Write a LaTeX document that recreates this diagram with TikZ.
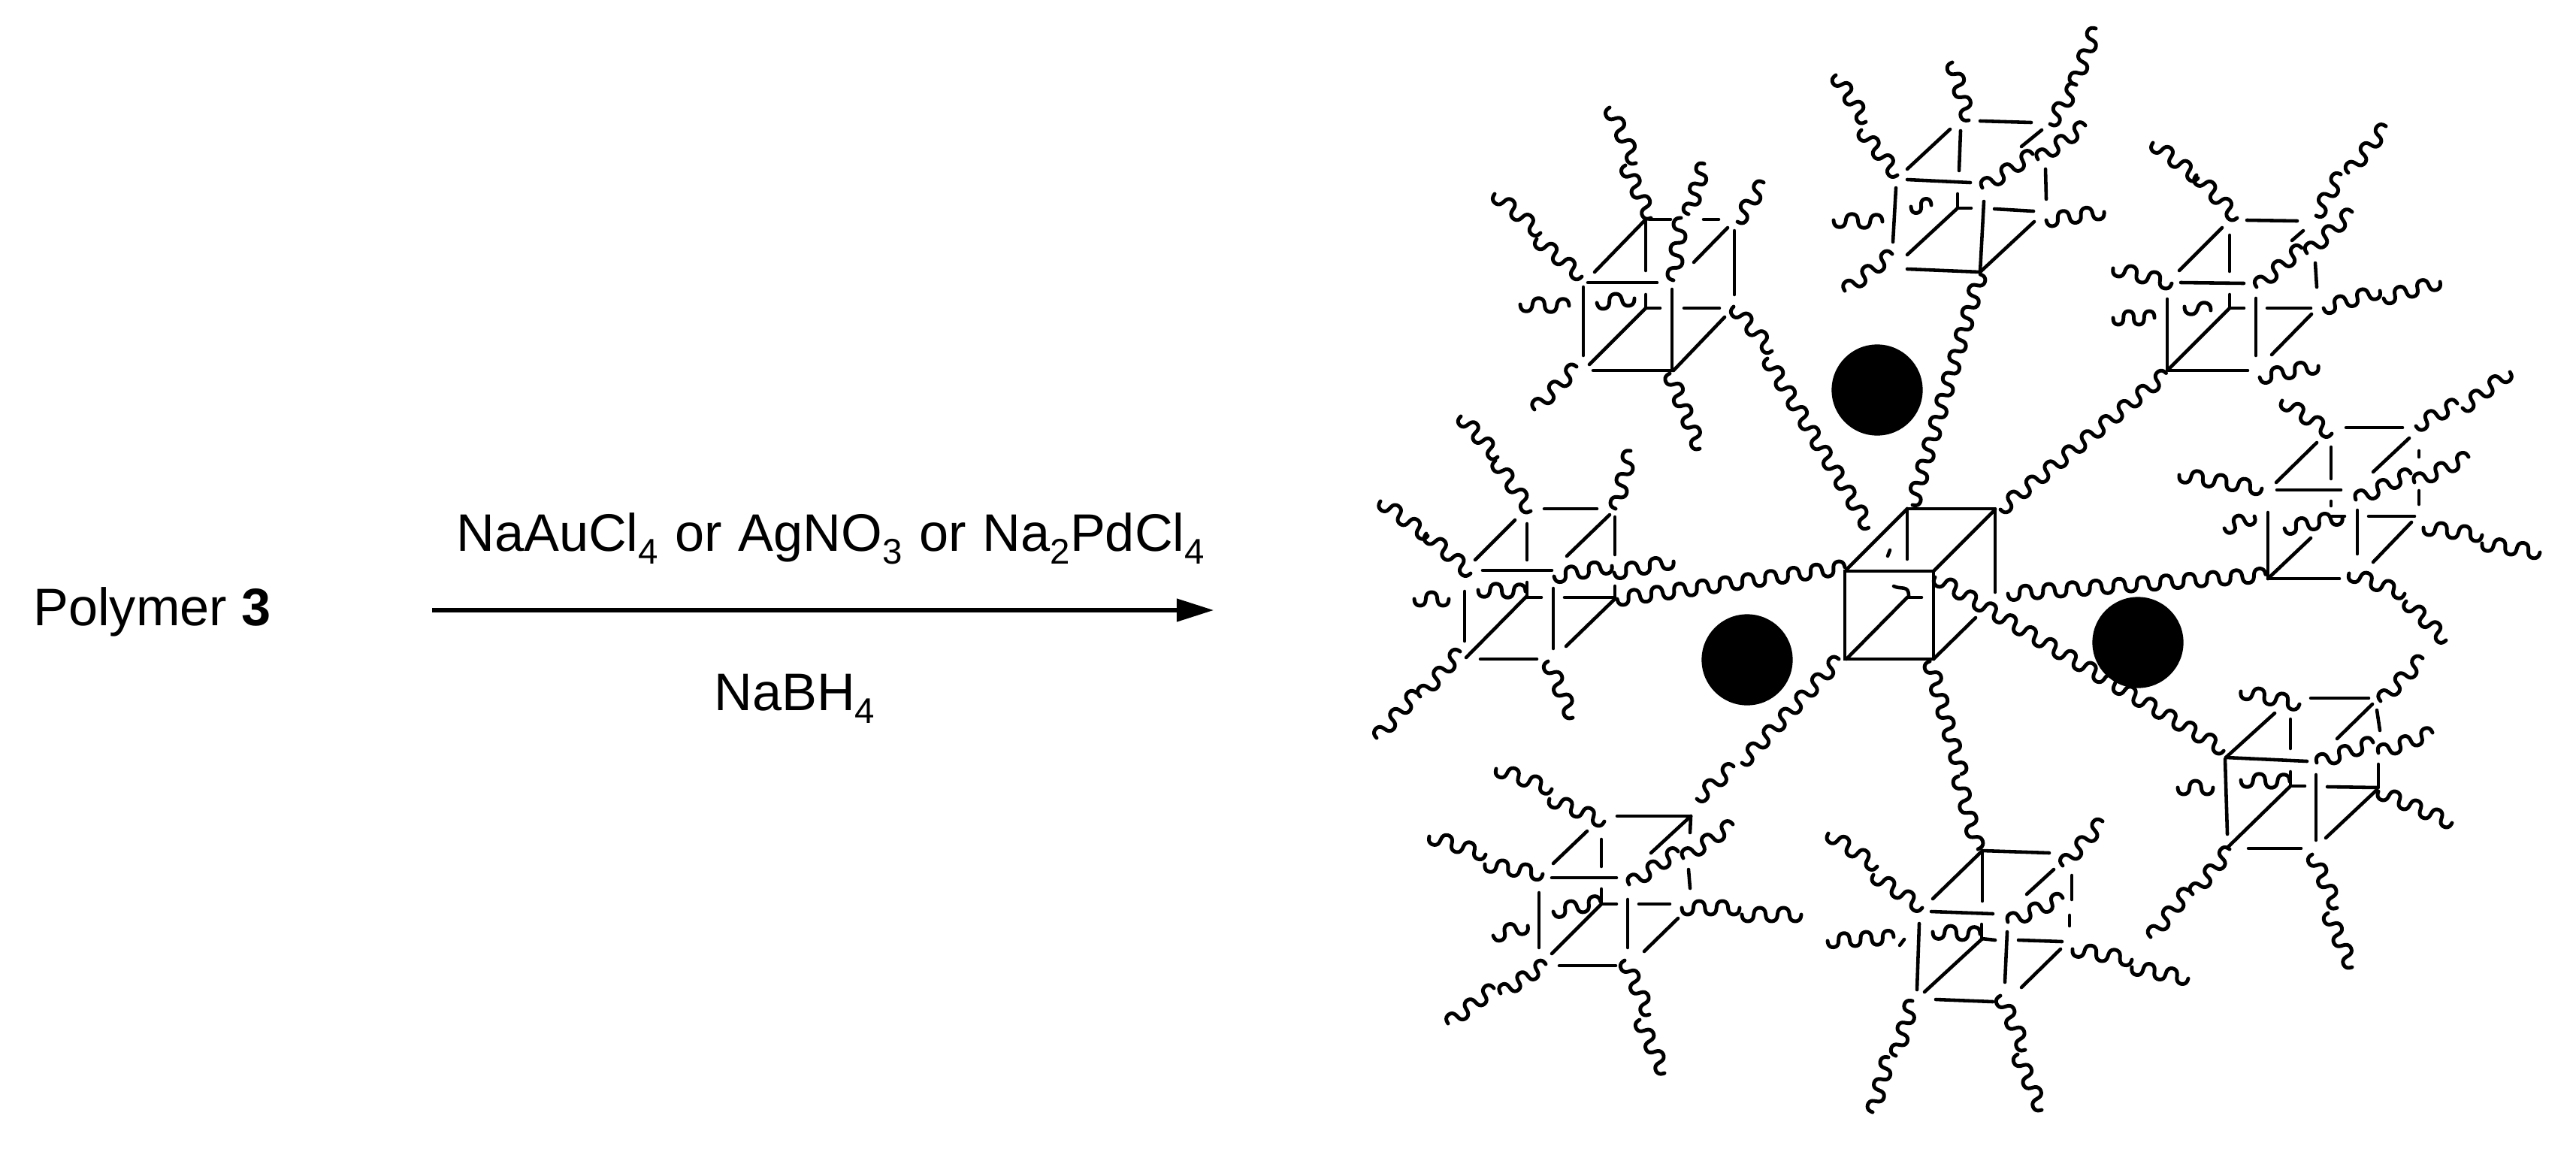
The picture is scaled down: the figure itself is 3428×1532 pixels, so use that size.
\documentclass[tikz,border=0pt]{standalone}
\usepackage{fontspec}
\setmainfont{Liberation Sans}
\usetikzlibrary{arrows.meta}
\newcommand{\sbs}[1]{\raisebox{-0.25em}{\fontsize{27}{27}\selectfont #1}}
% shorthand: straight line and wavy chain, in reference pixels
\newcommand{\ls}[4]{\draw[edge] (#1,#2) -- (#3,#4);}
\newcommand{\wv}[4]{%
  \pgfmathsetmacro\wlen{veclen(#3-#1,#4-#2)}%
  \pgfmathsetmacro\wcyc{max(1,round(2*\wlen/31))/2}%
  \pgfmathtruncatemacro\wsam{24*\wcyc+1}%
  \draw[wavy] plot[variable=\t,domain=0:1,samples=\wsam]
    ({#1+(\t-2*sin(720*\wcyc*\t)/\wlen)*(#3-#1)-9*sin(360*\wcyc*\t)*(#4-#2)/\wlen},
     {#2+(\t-2*sin(720*\wcyc*\t)/\wlen)*(#4-#2)+9*sin(360*\wcyc*\t)*(#3-#1)/\wlen});}
\tikzset{
  edge/.style={line width=2.6pt,line cap=round,black},
  wavy/.style={line width=2.8pt,line cap=round,line join=round,black},
  ball/.style={circle,fill=black,draw=none,inner sep=0pt,minimum size=69pt},
  label/.style={anchor=base west,inner sep=0pt,font=\fontsize{40}{42}\selectfont},
  reaction/.style={line width=2.9pt,-{Triangle[length=28pt,width=17pt]}}
}
\begin{document}
\begin{tikzpicture}[x=0.02cm,y=-0.02cm]
\useasboundingbox (0,0) rectangle (3428,1532);
% text and reaction arrow
\node[label] (polymer) at (44,832) {Polymer \textbf{3}};
\node[label] (reagents) at (607,733) {\spaceskip=12.7pt NaAuCl\sbs{4} or AgNO\sbs{3} or Na\sbs{2}PdCl\sbs{4}};
\node[label] (reductant) at (950,945) {NaBH\sbs{4}};
\coordinate (arrowstart) at (575,812);
\coordinate (arrowend) at (1615,812);
\draw[reaction] (arrowstart) -- (arrowend);
% nanoparticles
\node[ball] (ballTop) at (2498,519) {};
\node[ball] (ballLeft) at (2325,878) {};
\node[ball] (ballRight) at (2845,855) {};
% central cube
\ls{2538}{677}{2655}{677}\ls{2457}{758}{2538}{677}\ls{2538}{677}{2538}{744}
\ls{2655}{678}{2655}{788}\ls{2573}{760}{2655}{678}
\draw[edge] (2455,760) rectangle (2573,877);
\ls{2457}{877}{2538}{795}\ls{2538}{795}{2557}{795}\ls{2573}{877}{2629}{822}
\ls{2515}{732}{2512}{740}
\draw[edge] (2520,780) .. controls (2530,785) and (2540,778) .. (2540,793);
% central chains
\wv{2575}{768}{2960}{998}
\wv{2672}{790}{3015}{765}
\wv{2545}{672}{2635}{365}
\wv{2662}{678}{2883}{497}
\wv{2568}{880}{2610}{1030}\wv{2606}{1033}{2632}{1130}
\wv{2447}{877}{2318}{1015}\wv{2307}{1020}{2258}{1063}
\wv{2152}{797}{2455}{755}
\wv{2352}{477}{2487}{702}
% cube A (top left)
\ls{2113}{376}{2205}{376}\ls{2122}{362}{2190}{292}\ls{2195}{292}{2223}{292}
\ls{2267}{292}{2287}{292}\ls{2190}{292}{2190}{360}\ls{2254}{349}{2299}{303}
\ls{2308}{307}{2308}{392}\ls{2107}{382}{2107}{473}\ls{2190}{392}{2190}{410}
\ls{2190}{410}{2209}{410}\ls{2225}{385}{2225}{493}\ls{2241}{410}{2288}{410}
\ls{2227}{493}{2295}{422}\ls{2120}{493}{2223}{493}\ls{2115}{485}{2190}{410}
\wv{1989}{258}{2050}{310}\wv{2045}{318}{2105}{368}
\wv{2142}{143}{2177}{217}\wv{2163}{220}{2197}{290}
\wv{2268}{218}{2247}{285}\wv{2237}{290}{2227}{373}
\wv{2347}{243}{2312}{295}
\wv{2023}{405}{2088}{407}\wv{2125}{403}{2175}{397}
\wv{2307}{408}{2358}{467}
\wv{2098}{488}{2042}{545}\wv{2222}{497}{2262}{597}
% cube B (left)
\ls{2055}{677}{2125}{677}\ls{1963}{745}{2016}{692}\ls{2032}{697}{2032}{745}
\ls{2085}{740}{2142}{685}\ls{2149}{688}{2149}{738}\ls{1973}{759}{2065}{759}
\ls{2032}{775}{2032}{795}\ls{2032}{795}{2051}{795}\ls{1949}{787}{1949}{853}
\ls{2067}{783}{2067}{863}\ls{2082}{795}{2149}{795}\ls{2149}{780}{2149}{795}
\ls{2084}{860}{2149}{797}\ls{1951}{875}{2032}{793}\ls{1970}{877}{2045}{877}
\wv{1944}{554}{1993}{608}\wv{1990}{613}{2037}{680}
\wv{1837}{667}{1900}{713}\wv{1898}{710}{1957}{763}
\wv{2170}{600}{2150}{677}
\wv{2068}{767}{2145}{753}\wv{2148}{762}{2227}{747}
\wv{1882}{797}{1928}{797}\wv{1967}{785}{2030}{787}
\wv{1943}{867}{1890}{927}\wv{1885}{922}{1832}{982}
\wv{2060}{880}{2093}{955}
% cube C (top centre)
\ls{2635}{161}{2703}{163}\ls{2538}{225}{2595}{172}\ls{2609}{174}{2607}{227}
\ls{2690}{195}{2717}{173}\ls{2722}{225}{2723}{265}\ls{2538}{239}{2622}{243}
\ls{2605}{258}{2605}{277}\ls{2605}{277}{2623}{277}\ls{2523}{250}{2519}{322}
\ls{2640}{268}{2635}{362}\ls{2654}{278}{2706}{281}\ls{2635}{362}{2707}{295}
\ls{2538}{339}{2605}{277}\ls{2538}{358}{2635}{362}
\wv{2443}{100}{2483}{162}\wv{2477}{173}{2525}{233}
\wv{2598}{83}{2620}{160}
\wv{2789}{38}{2760}{112}\wv{2763}{113}{2728}{165}
\wv{2775}{167}{2712}{212}\wv{2705}{205}{2638}{250}
\wv{2440}{293}{2505}{295}\wv{2543}{275}{2570}{273}
\wv{2723}{293}{2800}{282}\wv{2518}{338}{2455}{387}
% cube D (upper right)
\ls{2990}{293}{3057}{294}\ls{2900}{360}{2957}{303}\ls{2967}{313}{2967}{361}
\ls{3050}{320}{3065}{307}\ls{3081}{350}{3083}{382}\ls{2902}{376}{2986}{377}
\ls{2967}{392}{2967}{410}\ls{2967}{410}{2986}{410}\ls{2884}{398}{2884}{492}
\ls{3002}{397}{3002}{473}\ls{3017}{410}{3075}{410}\ls{3023}{472}{3076}{418}
\ls{2885}{492}{2967}{410}\ls{2885}{493}{2991}{493}
\wv{2865}{190}{2925}{237}\wv{2923}{233}{2977}{290}
\wv{3175}{168}{3125}{230}\wv{3115}{232}{3082}{287}
\wv{3130}{282}{3070}{337}\wv{3063}{330}{3003}{382}
\wv{2812}{357}{2890}{377}\wv{2812}{423}{2867}{423}\wv{2907}{408}{2942}{413}
\wv{3092}{410}{3167}{387}\wv{3172}{397}{3247}{375}
\wv{3007}{502}{3085}{487}
% cube E (right)
\ls{3122}{569}{3197}{569}\ls{3029}{642}{3083}{589}\ls{3102}{595}{3102}{637}
\ls{3158}{628}{3206}{583}\ls{3219}{600}{3219}{608}\ls{3219}{653}{3219}{671}
\ls{3030}{652}{3115}{652}\ls{3102}{667}{3102}{673}\ls{3018}{682}{3018}{770}
\ls{3137}{679}{3137}{737}\ls{3152}{687}{3213}{687}\ls{3158}{748}{3209}{695}
\ls{3018}{770}{3075}{716}\ls{3018}{770}{3113}{770}\ls{3103}{687}{3120}{687}
\wv{3037}{533}{3103}{577}
\wv{3215}{567}{3270}{537}\wv{3277}{543}{3340}{495}
\wv{3285}{608}{3213}{642}\wv{3208}{630}{3135}{665}
\wv{2900}{632}{3010}{650}\wv{2960}{703}{3000}{687}\wv{3040}{703}{3117}{688}
\wv{3225}{702}{3303}{712}\wv{3303}{723}{3380}{735}
\wv{3126}{763}{3200}{790}\wv{3202}{800}{3255}{852}
% cube F (lower right)
\ls{3075}{929}{3152}{929}\ls{2962}{1008}{3027}{949}\ls{3048}{957}{3048}{996}
\ls{3110}{983}{3157}{937}\ls{3163}{945}{3167}{972}\ls{2962}{1008}{3070}{1013}
\ls{3048}{1027}{3048}{1046}\ls{3048}{1046}{3067}{1046}\ls{2961}{1010}{2964}{1110}
\ls{3082}{1031}{3082}{1118}\ls{3097}{1047}{3163}{1048}\ls{3165}{1017}{3165}{1048}
\ls{3095}{1115}{3163}{1051}\ls{2965}{1127}{3047}{1047}\ls{2992}{1129}{3062}{1129}
\wv{2982}{920}{3060}{937}\wv{3224}{876}{3168}{933}
\wv{3237}{975}{3165}{1002}\wv{3158}{988}{3083}{1015}
\wv{2898}{1048}{2945}{1048}\wv{2982}{1038}{3047}{1040}
\wv{3165}{1053}{3263}{1095}
\wv{2967}{1130}{2918}{1190}\wv{2912}{1185}{2862}{1247}
\wv{3077}{1137}{3110}{1208}\wv{3098}{1215}{3130}{1287}
% cube G (lower centre)
\ls{2638}{1132}{2727}{1135}\ls{2572}{1196}{2638}{1132}\ls{2638}{1132}{2638}{1199}
\ls{2697}{1190}{2733}{1157}\ls{2757}{1165}{2757}{1197}\ls{2754}{1218}{2754}{1232}
\ls{2570}{1213}{2652}{1216}\ls{2637}{1230}{2637}{1250}\ls{2637}{1249}{2655}{1251}
\ls{2554}{1229}{2551}{1317}\ls{2671}{1240}{2668}{1307}\ls{2686}{1251}{2744}{1253}
\ls{2690}{1314}{2742}{1263}\ls{2561}{1320}{2637}{1250}\ls{2576}{1330}{2652}{1333}
\ls{2528}{1258}{2534}{1250}
\wv{2433}{1109}{2498}{1153}\wv{2493}{1164}{2558}{1208}
\wv{2798}{1093}{2745}{1152}\wv{2745}{1195}{2672}{1227}
\wv{2432}{1252}{2520}{1247}\wv{2572}{1240}{2635}{1243}
\wv{2758}{1263}{2837}{1277}\wv{2837}{1287}{2912}{1302}
\wv{2545}{1332}{2523}{1405}\wv{2513}{1407}{2492}{1480}
\wv{2662}{1325}{2695}{1397}\wv{2685}{1403}{2717}{1477}
% cube H (lower left)
\ls{2152}{1086}{2250}{1086}\ls{2197}{1135}{2250}{1086}\ls{2250}{1086}{2249}{1108}
\ls{2067}{1149}{2112}{1106}\ls{2131}{1117}{2131}{1153}\ls{2247}{1157}{2249}{1182}
\ls{2065}{1168}{2151}{1168}\ls{2131}{1183}{2131}{1203}\ls{2131}{1203}{2151}{1203}
\ls{2048}{1188}{2048}{1261}\ls{2166}{1197}{2166}{1261}\ls{2181}{1203}{2222}{1203}
\ls{2188}{1266}{2233}{1222}\ls{2065}{1269}{2131}{1203}\ls{2075}{1285}{2150}{1285}
\wv{1991}{1023}{2065}{1050}\wv{2062}{1063}{2135}{1093}
\wv{2306}{1097}{2240}{1142}\wv{2233}{1133}{2168}{1177}
\wv{1902}{1113}{1977}{1137}\wv{1976}{1150}{2053}{1163}
\wv{1987}{1245}{2033}{1232}\wv{2067}{1213}{2130}{1200}
\wv{2238}{1208}{2315}{1208}\wv{2318}{1217}{2397}{1217}
\wv{2057}{1283}{1997}{1322}\wv{1988}{1315}{1927}{1362}
\wv{2162}{1278}{2195}{1350}\wv{2182}{1357}{2215}{1428}
\end{tikzpicture}
\end{document}
